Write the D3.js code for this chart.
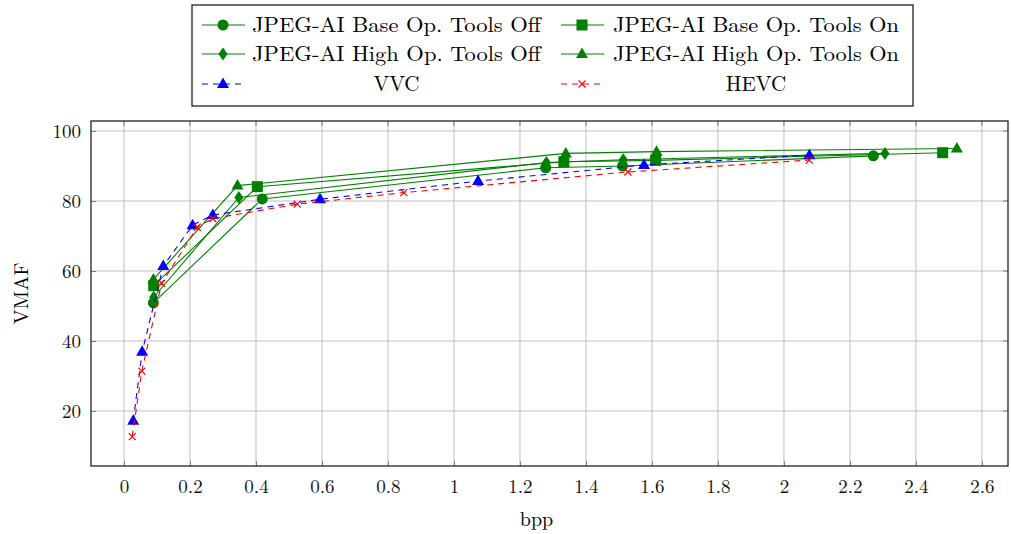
<!DOCTYPE html>
<html>
<head>
<meta charset="utf-8">
<script src="https://cdn.jsdelivr.net/npm/d3@7"></script>
<style>
  body { margin: 0; background: white; }
  svg { display: block; font-family: "Latin Modern Roman", "Liberation Serif", serif; }
</style>
</head>
<body>
<svg id="chart" width="1011" height="534"></svg>
<script>
// values
const baseOffX = [0.089, 0.419, 1.278, 1.511, 2.271];
const baseOffY = [50.9, 80.6, 89.5, 90.0, 92.9];
const highOffX = [0.090, 0.348, 1.280, 1.513, 2.306];
const highOffY = [52.5, 81.0, 91.0, 91.8, 93.6];
const baseOnX = [0.090, 0.404, 1.333, 1.611, 2.481];
const baseOnY = [55.8, 84.1, 91.2, 91.6, 93.8];
const highOnX = [0.089, 0.344, 1.339, 1.614, 2.524];
const highOnY = [57.6, 84.4, 93.6, 94.1, 95.0];
const vvcX = [0.028, 0.055, 0.119, 0.208, 0.269, 0.594, 1.073, 1.576, 2.077];
const vvcY = [17.2, 36.9, 61.4, 73.1, 76.0, 80.5, 85.7, 90.3, 93.1];
const hevcX = [0.025, 0.054, 0.114, 0.222, 0.269, 0.525, 0.848, 1.527, 2.077];
const hevcY = [12.7, 31.4, 56.5, 72.5, 75.0, 79.1, 82.4, 88.3, 91.7];

const xTicks = [0, 0.2, 0.4, 0.6, 0.8, 1, 1.2, 1.4, 1.6, 1.8, 2, 2.2, 2.4, 2.6];
const yTicks = [20, 40, 60, 80, 100];

const green = '#008000';
const series = [
    {name: 'JPEG-AI Base Op. Tools Off', xs: baseOffX, ys: baseOffY, color: green, mark: 'circle', dash: null},
    {name: 'JPEG-AI Base Op. Tools On', xs: baseOnX, ys: baseOnY, color: green, mark: 'square', dash: null},
    {name: 'JPEG-AI High Op. Tools Off', xs: highOffX, ys: highOffY, color: green, mark: 'diamond', dash: null},
    {name: 'JPEG-AI High Op. Tools On', xs: highOnX, ys: highOnY, color: green, mark: 'triangle', dash: null},
    {name: 'VVC', xs: vvcX, ys: vvcY, color: '#0000ff', mark: 'triangle', dash: '6,5'},
    {name: 'HEVC', xs: hevcX, ys: hevcY, color: '#ff0000', mark: 'cross', dash: '6,5'}
];

const svg = d3.select('#chart');
const pLeft = 91, pRight = 1008, pTop = 121, pBottom = 466;

const x = d3.scaleLinear().domain([-0.1, 2.679]).range([pLeft, pRight]);
const y = d3.scaleLinear().domain([4.29, 102.86]).range([pBottom, pTop]);

// grid
const grid = svg.append('g').attr('class', 'grid');
grid.selectAll('line.gx').data(xTicks).enter().append('line')
    .attr('x1', d => x(d)).attr('x2', d => x(d))
    .attr('y1', pTop).attr('y2', pBottom)
    .attr('stroke', '#bfbfbf').attr('stroke-width', 1);
grid.selectAll('line.gy').data(yTicks).enter().append('line')
    .attr('y1', d => y(d)).attr('y2', d => y(d))
    .attr('x1', pLeft).attr('x2', pRight)
    .attr('stroke', '#bfbfbf').attr('stroke-width', 1);

// axes: ticks pointing inward, labels outside
const xAxis = svg.append('g').attr('transform', `translate(0,${pBottom})`)
    .call(d3.axisBottom(x).tickValues(xTicks).tickSize(-5).tickPadding(14).tickFormat(d3.format('~g')));
const yAxis = svg.append('g').attr('transform', `translate(${pLeft},0)`)
    .call(d3.axisLeft(y).tickValues(yTicks).tickSize(-5).tickPadding(10));
[xAxis, yAxis].forEach(a => {
    a.attr('font-family', null).attr('font-size', null);
    a.select('.domain').remove();
    a.selectAll('.tick line').attr('stroke', '#808080');
    a.selectAll('.tick text').attr('font-size', 19).attr('fill', '#111');
});
// mirrored ticks on top/right
svg.append('g').selectAll('line').data(xTicks).enter().append('line')
    .attr('x1', d => x(d)).attr('x2', d => x(d)).attr('y1', pTop).attr('y2', pTop + 5)
    .attr('stroke', '#808080');
svg.append('g').selectAll('line').data(yTicks).enter().append('line')
    .attr('y1', d => y(d)).attr('y2', d => y(d)).attr('x1', pRight).attr('x2', pRight - 5)
    .attr('stroke', '#808080');

svg.append('rect')
    .attr('x', pLeft).attr('y', pTop).attr('width', pRight - pLeft).attr('height', pBottom - pTop)
    .attr('fill', 'none').attr('stroke', '#222').attr('stroke-width', 1.3);

// axis titles
svg.append('text').attr('x', x(1.25)).attr('y', 526)
    .attr('text-anchor', 'middle').attr('font-size', 20).text('bpp');
svg.append('text').attr('transform', `translate(28,${(pTop + pBottom) / 2}) rotate(-90)`)
    .attr('text-anchor', 'middle').attr('font-size', 20).text('VMAF');

// marker drawing
function drawMark(g, type, color, cx, cy) {
    if (type === 'circle') {
        g.append('circle').attr('cx', cx).attr('cy', cy).attr('r', 5.5).attr('fill', color);
    } else if (type === 'square') {
        g.append('rect').attr('x', cx - 5.5).attr('y', cy - 5.5).attr('width', 11).attr('height', 11).attr('fill', color);
    } else if (type === 'diamond') {
        g.append('path').attr('d', `M${cx},${cy - 6.5}L${cx + 4.5},${cy}L${cx},${cy + 6.5}L${cx - 4.5},${cy}Z`).attr('fill', color);
    } else if (type === 'triangle') {
        g.append('path').attr('d', `M${cx},${cy - 6.5}L${cx + 6},${cy + 4}L${cx - 6},${cy + 4}Z`).attr('fill', color);
    } else if (type === 'cross') {
        g.append('path').attr('d', `M${cx - 3.5},${cy - 3.5}L${cx + 3.5},${cy + 3.5}M${cx - 3.5},${cy + 3.5}L${cx + 3.5},${cy - 3.5}`)
            .attr('stroke', color).attr('stroke-width', 1.2).attr('fill', 'none');
    }
}

// series
const plot = svg.append('g').attr('class', 'plot');
const line = d3.line().x(d => x(d[0])).y(d => y(d[1]));
series.forEach(s => {
    const pts = s.xs.map((v, i) => [v, s.ys[i]]);
    plot.append('path')
        .datum(pts)
        .attr('d', line)
        .attr('fill', 'none')
        .attr('stroke', s.color)
        .attr('stroke-width', 1.1)
        .attr('stroke-dasharray', s.dash);
    const mg = plot.append('g');
    pts.forEach(p => drawMark(mg, s.mark, s.color, x(p[0]), y(p[1])));
});

// legend
const legend = svg.append('g').attr('class', 'legend');
legend.append('rect').attr('x', 192).attr('y', 5).attr('width', 721).attr('height', 101)
    .attr('fill', 'white').attr('stroke', '#222').attr('stroke-width', 1.3);
const rowY = [25, 54, 84];
const colSample = [202, 561];
const colText = [252, 613];
const colTextW = [289, 286];
series.forEach((s, i) => {
    const col = i % 2, row = Math.floor(i / 2);
    const cy = rowY[row];
    const x0 = colSample[col];
    legend.append('line').attr('x1', x0).attr('x2', x0 + 43).attr('y1', cy).attr('y2', cy)
        .attr('stroke', s.color).attr('stroke-width', 1.1).attr('stroke-dasharray', s.dash);
    drawMark(legend, s.mark, s.color, x0 + 21, cy);
    const t = legend.append('text').attr('y', cy + 7).attr('font-size', 21).text(s.name);
    if (row < 2) {
        t.attr('x', colText[col]).attr('textLength', colTextW[col]).attr('lengthAdjust', 'spacingAndGlyphs');
    } else {
        t.attr('x', colText[col] + colTextW[col] / 2).attr('text-anchor', 'middle');
    }
});
</script>
</body>
</html>
